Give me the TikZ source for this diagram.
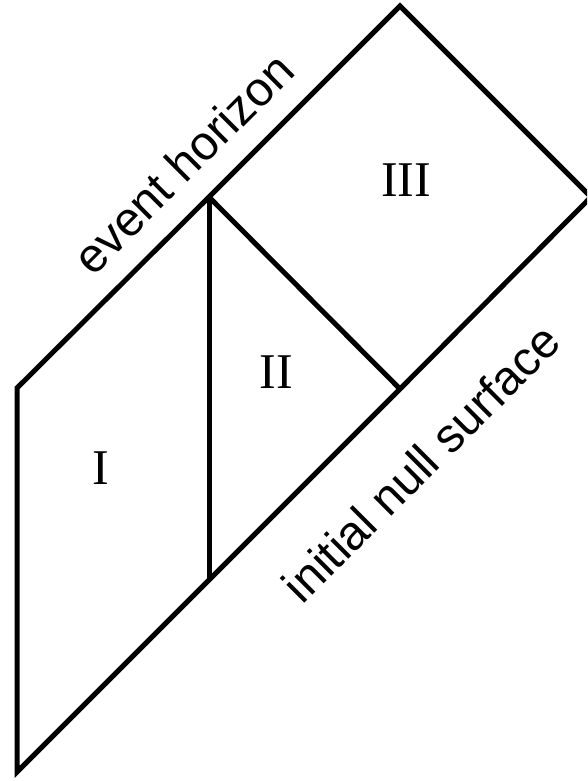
\documentclass[tikz,border=0pt]{standalone}
\usepackage{fontspec}
\newfontfamily\labelsans{Liberation Sans}
\newfontfamily\regionserif{Liberation Serif}
\begin{document}
\begin{tikzpicture}[x=1pt,y=-1pt,
  edge/.style={line width=5pt, black},
  region/.style={font=\regionserif\fontsize{50}{50}\selectfont, inner sep=0pt},
  curvelabel/.style={font=\labelsans\fontsize{48}{48}\selectfont, rotate=45, inner sep=0pt}]
\useasboundingbox (0,0) rectangle (587,781);
\clip (0,0) rectangle (587,781);
\coordinate (A) at (17,772);
\coordinate (B) at (17,388);
\coordinate (C) at (209,197);
\coordinate (D) at (400,6);
\coordinate (E) at (591,197);
\coordinate (G) at (400,389);
\coordinate (F) at (209,580);
\draw[edge] (A) -- (B) -- (C) -- (D) -- (E) -- (G) -- (F) -- cycle;
\draw[edge] (C) -- (F);
\draw[edge] (C) -- (G);
\node[region] (r1) at (101,468) {I};
\node[region] (r2) at (276,372) {II};
\node[region] (r3) at (406,180) {III};
\node[curvelabel] (eh) at (183,163) {event horizon};
\node[curvelabel] (ins) at (421,463) {initial null surface};
\end{tikzpicture}
\end{document}
